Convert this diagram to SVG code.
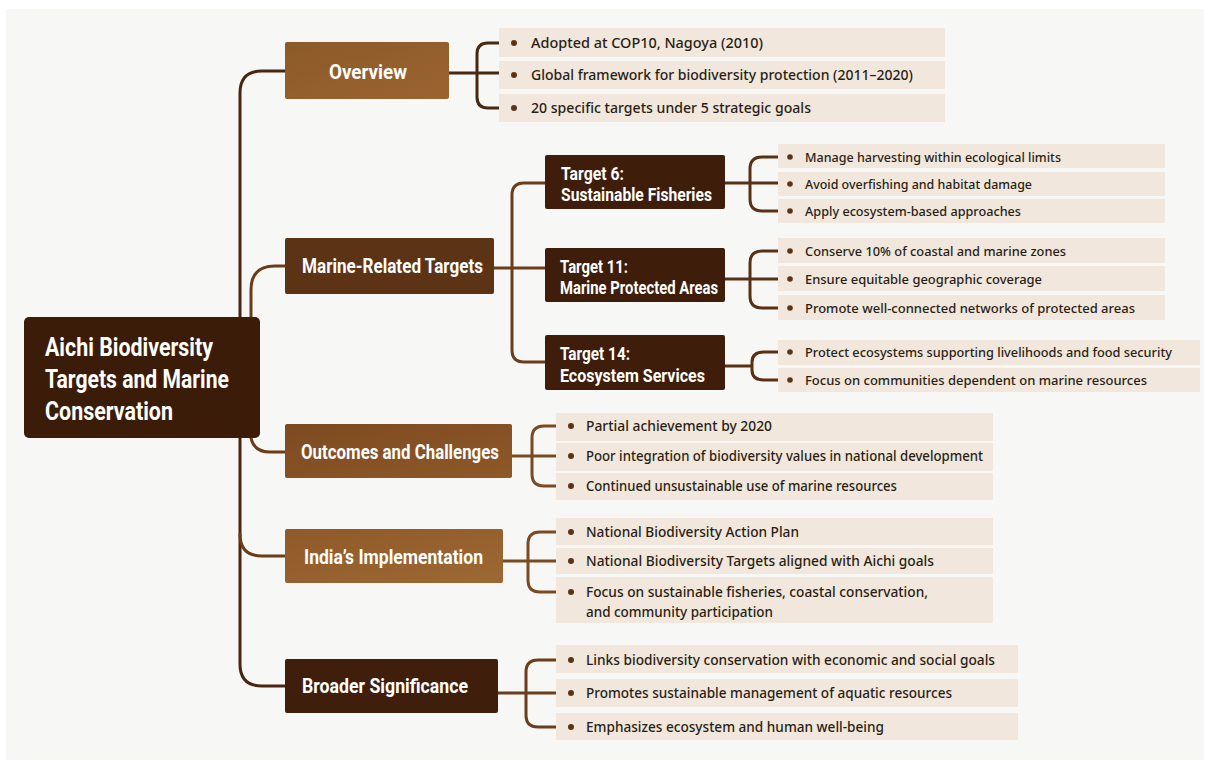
<svg xmlns="http://www.w3.org/2000/svg" width="1208" height="767" viewBox="0 0 1208 767">
<style>
.h{font-family:Roboto,"Liberation Sans",sans-serif;font-weight:700;fill:#ffffff}
.b{font-family:"Noto Sans","Liberation Sans",sans-serif;font-weight:500;font-size:14px;fill:#2a1e14}
.bs{font-family:"Noto Sans","Liberation Sans",sans-serif;font-weight:500;font-size:13px;fill:#2a1e14}
.box{fill:#f1e7dc}
.dot{fill:#5a3417}
.c{fill:none;stroke-width:3;stroke-linecap:round;stroke-linejoin:round}
</style>
<defs>
<linearGradient id="gOv" x1="0" y1="0" x2="1" y2="1"><stop offset="0" stop-color="#8c5a28"/><stop offset="1" stop-color="#9a6430"/></linearGradient>
<linearGradient id="gOc" x1="0" y1="0" x2="1" y2="1"><stop offset="0" stop-color="#7d4a20"/><stop offset="1" stop-color="#8e5828"/></linearGradient>
<linearGradient id="gIn" x1="0" y1="0" x2="1" y2="1"><stop offset="0" stop-color="#8f5a29"/><stop offset="1" stop-color="#9c6833"/></linearGradient>
</defs>
<rect x="0" y="0" width="1208" height="767" fill="#ffffff"/>
<rect x="6" y="9" width="1198" height="751" fill="#f7f7f6"/>

<g id="connectors">
  <path class="c" stroke="#4a250f" d="M285,71 H262 Q240,71 240,93 V664 Q240,686 262,686 H285"/>
  <path class="c" stroke="#6a3c18" d="M240,534 Q240,556 262,556 H285"/>
  <path class="c" stroke="#6a3c18" d="M251,317 V290 Q251,266 275,266 H285"/>
  <path class="c" stroke="#6a3c18" d="M251,438 Q254,452 270,452 H285"/>
  <path class="c" stroke="#4a2810" d="M449,73 H499 M499,43 H488 Q477,43 477,54 V97 Q477,108 488,108 H499"/>
  <path class="c" stroke="#6b3d1a" d="M494,268 H545 M545,183 H524 Q512,183 512,195 V350 Q512,362 524,362 H545"/>
  <path class="c" stroke="#5a3015" d="M725,183 H778 M778,157 H762 Q750,157 750,169 V199 Q750,211 762,211 H778"/>
  <path class="c" stroke="#5a3015" d="M725,279 H778 M778,251 H762 Q750,251 750,263 V296 Q750,308 762,308 H778"/>
  <path class="c" stroke="#5a3015" d="M725,366 H752 M778,352 H764 Q752,352 752,362 V370 Q752,380 764,380 H778"/>
  <path class="c" stroke="#7a4a20" d="M512,456 H556 M556,426 H544 Q532,426 532,438 V474 Q532,486 544,486 H556"/>
  <path class="c" stroke="#7a4a20" d="M503,561 H556 M556,532 H540 Q528,532 528,544 V580 Q528,592 540,592 H556"/>
  <path class="c" stroke="#6b3d1a" d="M498,693 H556 M556,660 H538 Q526,660 526,672 V715 Q526,727 538,727 H556"/>
</g>

<g id="root">
  <rect x="24" y="317" width="236" height="121" rx="5" fill="#3a1c08"/>
  <text class="h" font-size="25" x="45" y="356" textLength="168" lengthAdjust="spacingAndGlyphs">Aichi Biodiversity</text>
  <text class="h" font-size="25" x="45" y="388" textLength="184" lengthAdjust="spacingAndGlyphs">Targets and Marine</text>
  <text class="h" font-size="25" x="45" y="420" textLength="128" lengthAdjust="spacingAndGlyphs">Conservation</text>
</g>

<g id="overview">
  <rect x="285" y="42" width="164" height="57" rx="2" fill="url(#gOv)"/>
  <text class="h" font-size="21" x="329" y="79" textLength="78" lengthAdjust="spacingAndGlyphs">Overview</text>
</g>
<g id="overview-items">
  <rect class="box" x="499" y="28" width="446" height="29"/>
  <rect class="box" x="499" y="61" width="446" height="28"/>
  <rect class="box" x="499" y="94" width="446" height="28"/>
  <circle class="dot" cx="514" cy="43" r="3"/>
  <circle class="dot" cx="514" cy="75" r="3"/>
  <circle class="dot" cx="514" cy="108" r="3"/>
  <text class="b" x="531" y="48" textLength="232" lengthAdjust="spacingAndGlyphs">Adopted at COP10, Nagoya (2010)</text>
  <text class="b" x="531" y="80" textLength="382" lengthAdjust="spacingAndGlyphs">Global framework for biodiversity protection (2011–2020)</text>
  <text class="b" x="531" y="113" textLength="280" lengthAdjust="spacingAndGlyphs">20 specific targets under 5 strategic goals</text>
</g>

<g id="marine">
  <rect x="285" y="238" width="209" height="56" rx="2" fill="#5c3415"/>
  <text class="h" font-size="21" x="302" y="273" textLength="181" lengthAdjust="spacingAndGlyphs">Marine-Related Targets</text>
</g>

<g id="target6">
  <rect x="545" y="155" width="180" height="54" rx="2" fill="#3e1e0b"/>
  <text class="h" font-size="18" x="561" y="180" textLength="63" lengthAdjust="spacingAndGlyphs">Target 6:</text>
  <text class="h" font-size="18" x="561" y="201" textLength="151" lengthAdjust="spacingAndGlyphs">Sustainable Fisheries</text>
</g>
<g id="target6-items">
  <rect class="box" x="778" y="144" width="387" height="24"/>
  <rect class="box" x="778" y="172" width="387" height="24"/>
  <rect class="box" x="778" y="199" width="387" height="24"/>
  <circle class="dot" cx="790" cy="157" r="2.8"/>
  <circle class="dot" cx="790" cy="184" r="2.8"/>
  <circle class="dot" cx="790" cy="211" r="2.8"/>
  <text class="bs" x="805" y="162" textLength="256" lengthAdjust="spacingAndGlyphs">Manage harvesting within ecological limits</text>
  <text class="bs" x="805" y="189" textLength="227" lengthAdjust="spacingAndGlyphs">Avoid overfishing and habitat damage</text>
  <text class="bs" x="805" y="216" textLength="216" lengthAdjust="spacingAndGlyphs">Apply ecosystem-based approaches</text>
</g>

<g id="target11">
  <rect x="545" y="248" width="180" height="54" rx="2" fill="#3e1e0b"/>
  <text class="h" font-size="18" x="560" y="273" textLength="68" lengthAdjust="spacingAndGlyphs">Target 11:</text>
  <text class="h" font-size="18" x="560" y="294" textLength="158" lengthAdjust="spacingAndGlyphs">Marine Protected Areas</text>
</g>
<g id="target11-items">
  <rect class="box" x="778" y="238" width="387" height="25"/>
  <rect class="box" x="778" y="266" width="387" height="25"/>
  <rect class="box" x="778" y="295" width="387" height="25"/>
  <circle class="dot" cx="790" cy="251" r="2.8"/>
  <circle class="dot" cx="790" cy="279" r="2.8"/>
  <circle class="dot" cx="790" cy="308" r="2.8"/>
  <text class="bs" x="805" y="256" textLength="261" lengthAdjust="spacingAndGlyphs">Conserve 10% of coastal and marine zones</text>
  <text class="bs" x="805" y="284" textLength="237" lengthAdjust="spacingAndGlyphs">Ensure equitable geographic coverage</text>
  <text class="bs" x="805" y="313" textLength="330" lengthAdjust="spacingAndGlyphs">Promote well-connected networks of protected areas</text>
</g>

<g id="target14">
  <rect x="545" y="335" width="180" height="55" rx="2" fill="#3e1e0b"/>
  <text class="h" font-size="18" x="560" y="360" textLength="70" lengthAdjust="spacingAndGlyphs">Target 14:</text>
  <text class="h" font-size="18" x="560" y="382" textLength="145" lengthAdjust="spacingAndGlyphs">Ecosystem Services</text>
</g>
<g id="target14-items">
  <rect class="box" x="778" y="340" width="422" height="25"/>
  <rect class="box" x="778" y="368" width="422" height="24"/>
  <circle class="dot" cx="790" cy="352" r="2.8"/>
  <circle class="dot" cx="790" cy="380" r="2.8"/>
  <text class="bs" x="805" y="357" textLength="367" lengthAdjust="spacingAndGlyphs">Protect ecosystems supporting livelihoods and food security</text>
  <text class="bs" x="805" y="385" textLength="342" lengthAdjust="spacingAndGlyphs">Focus on communities dependent on marine resources</text>
</g>

<g id="outcomes">
  <rect x="285" y="424" width="227" height="54" rx="2" fill="url(#gOc)"/>
  <text class="h" font-size="21" x="301" y="459" textLength="198" lengthAdjust="spacingAndGlyphs">Outcomes and Challenges</text>
</g>
<g id="outcomes-items">
  <rect class="box" x="556" y="413" width="437" height="28"/>
  <rect class="box" x="556" y="443" width="437" height="28"/>
  <rect class="box" x="556" y="473" width="437" height="27"/>
  <circle class="dot" cx="571" cy="426" r="3"/>
  <circle class="dot" cx="571" cy="456" r="3"/>
  <circle class="dot" cx="571" cy="486" r="3"/>
  <text class="b" x="586" y="431" textLength="186" lengthAdjust="spacingAndGlyphs">Partial achievement by 2020</text>
  <text class="b" x="586" y="461" textLength="397" lengthAdjust="spacingAndGlyphs">Poor integration of biodiversity values in national development</text>
  <text class="b" x="586" y="491" textLength="311" lengthAdjust="spacingAndGlyphs">Continued unsustainable use of marine resources</text>
</g>

<g id="india">
  <rect x="285" y="529" width="218" height="54" rx="2" fill="url(#gIn)"/>
  <text class="h" font-size="21" x="304" y="564" textLength="179" lengthAdjust="spacingAndGlyphs">India’s Implementation</text>
</g>
<g id="india-items">
  <rect class="box" x="556" y="518" width="437" height="27"/>
  <rect class="box" x="556" y="548" width="437" height="26"/>
  <rect class="box" x="556" y="577" width="437" height="46"/>
  <circle class="dot" cx="571" cy="532" r="3"/>
  <circle class="dot" cx="571" cy="561" r="3"/>
  <circle class="dot" cx="571" cy="592" r="3"/>
  <text class="b" x="586" y="537" textLength="213" lengthAdjust="spacingAndGlyphs">National Biodiversity Action Plan</text>
  <text class="b" x="586" y="566" textLength="348" lengthAdjust="spacingAndGlyphs">National Biodiversity Targets aligned with Aichi goals</text>
  <text class="b" x="586" y="597" textLength="342" lengthAdjust="spacingAndGlyphs">Focus on sustainable fisheries, coastal conservation,</text>
  <text class="b" x="586" y="617" textLength="187" lengthAdjust="spacingAndGlyphs">and community participation</text>
</g>

<g id="broader">
  <rect x="285" y="659" width="213" height="54" rx="2" fill="#3f1f0b"/>
  <text class="h" font-size="21" x="302" y="693" textLength="166" lengthAdjust="spacingAndGlyphs">Broader Significance</text>
</g>
<g id="broader-items">
  <rect class="box" x="556" y="645" width="462" height="28"/>
  <rect class="box" x="556" y="679" width="462" height="28"/>
  <rect class="box" x="556" y="713" width="462" height="27"/>
  <circle class="dot" cx="571" cy="660" r="3"/>
  <circle class="dot" cx="571" cy="693" r="3"/>
  <circle class="dot" cx="571" cy="727" r="3"/>
  <text class="b" x="586" y="665" textLength="409" lengthAdjust="spacingAndGlyphs">Links biodiversity conservation with economic and social goals</text>
  <text class="b" x="586" y="698" textLength="366" lengthAdjust="spacingAndGlyphs">Promotes sustainable management of aquatic resources</text>
  <text class="b" x="586" y="732" textLength="298" lengthAdjust="spacingAndGlyphs">Emphasizes ecosystem and human well-being</text>
</g>
</svg>
